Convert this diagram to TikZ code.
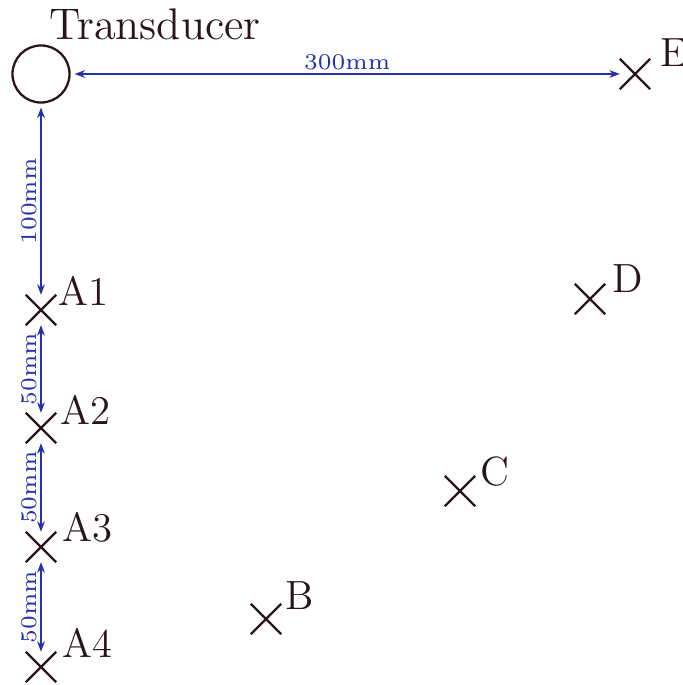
\documentclass[tikz,border=0pt]{standalone}
\usetikzlibrary{shapes.misc,arrows.meta}

\definecolor{dimblue}{RGB}{35,50,170}
\definecolor{ink}{RGB}{40,20,25}

\tikzset{
  point/.style={draw=ink, cross out, line width=0.65pt, minimum size=0.28cm, inner sep=0pt},
  ptlabel/.style={text=ink, font=\fontsize{11.6}{13}\selectfont, inner sep=0pt, anchor=south west},
  dim/.style={draw=dimblue, line width=0.45pt, {Stealth[length=3pt,width=2.2pt]}-{Stealth[length=3pt,width=2.2pt]}},
  dimlabel/.style={text=dimblue, font=\fontsize{6.4}{7}\selectfont, inner sep=1pt}
}

\begin{document}
\begin{tikzpicture}[x=0.01cm,y=-0.01cm]
\useasboundingbox (0,0) rectangle (683,685);

\node[draw=ink, circle, line width=0.65pt, minimum size=0.57cm, inner sep=0pt, outer sep=0.05cm] (trans) at (41,74) {};

\node[text=ink, font=\fontsize{12.6}{14}\selectfont, anchor=base, inner sep=0pt] (title) at (155,40) {Transducer};

\node[point] (A1) at (41,310) {};
\node[point] (A2) at (41,428) {};
\node[point] (A3) at (41,547) {};
\node[point] (A4) at (41,667) {};
\node[point] (B) at (266,619) {};
\node[point] (C) at (460,491) {};
\node[point] (D) at (590,299) {};
\node[point] (E) at (635,74) {};

\node[ptlabel] (lA1) at (58,306) {A1};
\node[ptlabel] (lA2) at (60,425) {A2};
\node[ptlabel] (lA3) at (62,543) {A3};
\node[ptlabel] (lA4) at (62,658) {A4};
\node[ptlabel] (lB) at (285,610) {B};
\node[ptlabel] (lC) at (480,487) {C};
\node[ptlabel] (lD) at (612,293) {D};
\node[ptlabel] (lE) at (660,67) {E};

\draw[dim] (trans)--node[dimlabel, above]{300mm}(E);
\draw[dim] (trans)--node[dimlabel, rotate=90, anchor=south]{100mm}(A1);
\draw[dim] (A1)--node[dimlabel, rotate=90, anchor=south]{50mm}(A2);
\draw[dim] (A2)--node[dimlabel, rotate=90, anchor=south]{50mm}(A3);
\draw[dim] (A3)--node[dimlabel, rotate=90, anchor=south]{50mm}(A4);

\end{tikzpicture}
\end{document}
